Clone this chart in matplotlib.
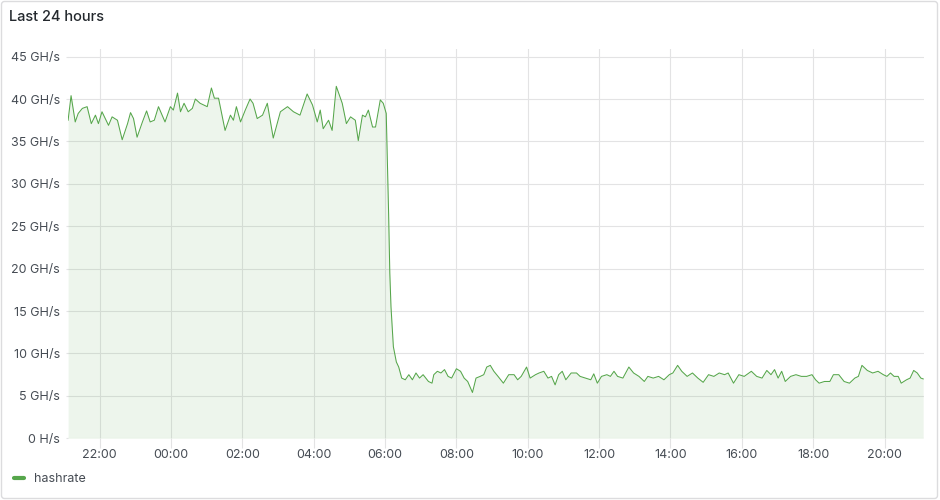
import datetime as dt

import matplotlib
matplotlib.use("Agg")
import matplotlib.pyplot as plt
import matplotlib.dates as mdates
from matplotlib.lines import Line2D
from matplotlib.patches import FancyBboxPatch
from matplotlib.ticker import FuncFormatter, MultipleLocator
from matplotlib.transforms import IdentityTransform

plt.rcParams['font.family'] = ['Inter', 'DejaVu Sans']

# hashrate samples (clock time, GH/s)
times = [
    "21:07", "21:12", "21:19", "21:24", "21:31", "21:39", "21:46", "21:53", "21:58", "22:04",
    "22:15", "22:21", "22:30", "22:38", "22:47", "22:52", "22:57", "23:03", "23:12", "23:19",
    "23:25", "23:32", "23:39", "23:50", "23:59", "00:04", "00:11", "00:16", "00:22", "00:29",
    "00:36", "00:41", "00:49", "01:01", "01:08", "01:13", "01:20", "01:31", "01:40", "01:45",
    "01:50", "01:57", "02:05", "02:13", "02:18", "02:25", "02:34", "02:42", "02:52", "03:04",
    "03:16", "03:26", "03:37", "03:49", "03:58", "04:06", "04:11", "04:16", "04:25", "04:31",
    "04:38", "04:48", "04:55", "05:02", "05:10", "05:15", "05:22", "05:27", "05:32", "05:39",
    "05:44", "05:52", "05:57", "06:02", "06:06", "06:08", "06:10", "06:14", "06:19", "06:23",
    "06:28", "06:34", "06:40", "06:46", "06:52", "06:58", "07:04", "07:13", "07:19", "07:22",
    "07:28", "07:34", "07:40", "07:46", "07:52", "08:00", "08:07", "08:13", "08:19", "08:27",
    "08:33", "08:40", "08:46", "08:51", "08:57", "09:03", "09:10", "09:19", "09:28", "09:37",
    "09:43", "09:49", "09:58", "10:04", "10:13", "10:19", "10:27", "10:34", "10:40", "10:46",
    "10:52", "10:58", "11:04", "11:13", "11:22", "11:28", "11:37", "11:46", "11:51", "11:57",
    "12:04", "12:13", "12:19", "12:25", "12:31", "12:40", "12:50", "12:58", "13:07", "13:16",
    "13:22", "13:31", "13:40", "13:49", "13:58", "14:04", "14:12", "14:19", "14:28", "14:37",
    "14:46", "14:55", "15:04", "15:13", "15:22", "15:31", "15:37", "15:46", "15:55", "16:04",
    "16:16", "16:25", "16:34", "16:42", "16:49", "16:55", "17:01", "17:07", "17:13", "17:22",
    "17:31", "17:40", "17:49", "17:58", "18:04", "18:10", "18:19", "18:28", "18:34", "18:43",
    "18:52", "19:01", "19:10", "19:16", "19:22", "19:31", "19:40", "19:49", "19:58", "20:04",
    "20:10", "20:16", "20:23", "20:28", "20:37", "20:43", "20:49", "20:55", "21:01", "21:05",
]
hashrate = [
    37.5, 40.4, 37.3, 38.3, 38.9, 39.1, 37.1, 38.1, 37.1, 38.5,
    36.9, 37.9, 37.5, 35.2, 37.1, 38.4, 37.7, 35.5, 37.3, 38.6,
    37.3, 37.5, 39.1, 37.3, 39.1, 38.7, 40.7, 38.5, 39.5, 38.5,
    38.9, 40.0, 39.5, 39.1, 41.3, 40.1, 40.1, 36.3, 38.1, 37.5,
    39.1, 37.3, 38.7, 40.0, 39.5, 37.7, 38.1, 39.5, 35.4, 38.5,
    39.1, 38.5, 38.1, 40.6, 39.3, 37.3, 38.7, 36.5, 37.5, 36.3,
    41.5, 39.5, 37.1, 37.9, 37.5, 35.1, 38.1, 37.9, 38.7, 36.7,
    36.7, 39.9, 39.5, 38.3, 26.5, 19.5, 15.5, 10.8, 9.0, 8.4,
    7.1, 6.9, 7.5, 6.9, 7.7, 7.1, 7.5, 6.7, 6.5, 7.5,
    7.9, 7.7, 8.1, 7.3, 7.1, 8.2, 7.9, 7.1, 6.7, 5.4,
    7.1, 7.3, 7.5, 8.4, 8.6, 7.9, 7.3, 6.5, 7.5, 7.5,
    6.9, 7.3, 8.4, 7.1, 7.5, 7.7, 7.9, 7.1, 7.3, 6.3,
    7.5, 7.9, 6.9, 7.7, 7.7, 7.3, 7.1, 6.9, 7.6, 6.5,
    7.3, 7.5, 7.3, 7.9, 7.3, 7.1, 8.4, 7.7, 7.3, 6.7,
    7.3, 7.1, 7.3, 6.9, 7.5, 7.7, 8.6, 7.9, 7.3, 7.7,
    7.1, 6.6, 7.5, 7.3, 7.7, 7.5, 7.7, 6.5, 7.5, 7.3,
    7.9, 7.3, 7.1, 8.0, 7.5, 8.1, 7.1, 7.9, 6.7, 7.3,
    7.5, 7.3, 7.3, 7.5, 6.9, 6.5, 6.7, 6.7, 7.5, 7.5,
    6.7, 6.5, 7.1, 7.3, 8.6, 8.0, 7.7, 7.9, 7.5, 7.3,
    7.7, 7.3, 7.3, 6.5, 6.9, 7.1, 8.0, 7.7, 7.1, 7.0,
]
series_name = "hashrate"
panel_title = "Last 24 hours"

GREEN = "#56a64b"
GRID = "#e3e3e4"
TEXT = "#464c54"
TITLE = "#24292e"


def to_datetimes(labels, start):
    # clock strings -> datetimes, rolling over to the next day at midnight
    out = []
    day = start.date()
    prev = None
    for s in labels:
        t = dt.datetime.strptime(s, "%H:%M").time()
        if prev is not None and t < prev:
            day += dt.timedelta(days=1)
        out.append(dt.datetime.combine(day, t))
        prev = t
    return out


def rate_label(v, pos):
    if v == 0:
        return "0 H/s"
    return f"{v:g} GH/s"


start = dt.datetime(2024, 5, 1, 21, 6)
end = start + dt.timedelta(hours=24)
x = to_datetimes(times, start)

fig = plt.figure(figsize=(9.4, 5.0), dpi=100)
fig.patch.set_facecolor("white")

# panel frame
frame = FancyBboxPatch((1.5, 1.5), 936, 497, boxstyle="round,pad=0,rounding_size=3",
                       transform=IdentityTransform(), fc="none", ec="#dcdcde", lw=1)
fig.patches.append(frame)

ax = fig.add_axes([67.5 / 940, 1 - 438.3 / 500, 856.3 / 940, (438.3 - 49) / 500])
ax.plot(x, hashrate, color=GREEN, lw=0.75)
ax.fill_between(x, hashrate, color=GREEN, alpha=0.1, lw=0)

ax.set_xlim(start, end)
ax.set_ylim(0, 45.9)
ax.yaxis.set_major_locator(MultipleLocator(5))
ax.yaxis.set_major_formatter(FuncFormatter(rate_label))
ax.xaxis.set_major_locator(mdates.HourLocator(byhour=range(0, 24, 2)))
ax.xaxis.set_major_formatter(mdates.DateFormatter("%H:%M"))

ax.set_axisbelow(True)
ax.grid(color=GRID, lw=0.8)
for s in ax.spines.values():
    s.set_visible(False)
ax.tick_params(axis="x", length=7, width=0.8, color=GRID, pad=1,
               labelsize=9, labelcolor=TEXT)
ax.tick_params(axis="y", length=1.5, width=0.8, color=GRID, pad=4,
               labelsize=9, labelcolor=TEXT)

fig.text(9 / 940, 1 - 17 / 500, panel_title, fontsize=10.5, weight="medium",
         color=TITLE, va="center", ha="left")

handle = Line2D([], [], color=GREEN, lw=3, solid_capstyle="round")
fig.legend(handles=[handle], labels=[series_name], loc="center left",
           bbox_to_anchor=(14 / 940, 1 - 479 / 500), frameon=False, fontsize=9,
           handlelength=0.8, handletextpad=0.8, borderpad=0, borderaxespad=0,
           labelcolor=TEXT)

fig.savefig("out.png", dpi=100)
